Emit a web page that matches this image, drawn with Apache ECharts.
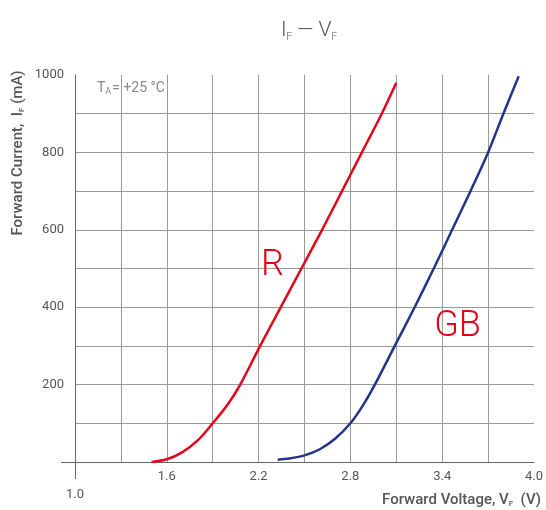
<!DOCTYPE html>
<html>
<head>
<meta charset="utf-8">
<script src="https://cdn.jsdelivr.net/npm/echarts@6/dist/echarts.min.js"></script>
<style>
  html, body { margin: 0; padding: 0; background: #fff; }
  #chart { width: 546px; height: 510px; }
</style>
</head>
<body>
<div id="chart"></div>
<script>
// R 曲线
var rVolt = [1.5, 1.6, 1.7, 1.8, 1.9, 2.0, 2.08, 2.21, 2.345, 2.48, 2.615, 2.745, 2.875, 3.005, 3.1];
var rCurr = [0, 7, 25, 55, 100, 150, 200, 300, 400, 500, 600, 700, 800, 900, 980];
// GB 曲线
var gbVolt = [2.325, 2.4, 2.5, 2.6, 2.7, 2.8, 2.88, 2.96, 3.09, 3.22, 3.345, 3.465, 3.585, 3.7, 3.8, 3.9];
var gbCurr = [6, 9, 17, 33, 60, 100, 145, 200, 300, 400, 500, 600, 700, 800, 900, 997];

var xLabels = ["1.0", "1.6", "2.2", "2.8", "3.4", "4.0"];
var yLabels = [200, 400, 600, 800, 1000];

var font = "Roboto";
var textGrey = "#555";
var axisGrey = "#666";

function pairs(xs, ys) {
  return xs.map(function (x, i) { return [x, ys[i]]; });
}

var myChart = echarts.init(document.getElementById("chart"));

var option = {
  animation: false,
  textStyle: { fontFamily: font },
  title: {
    text: "I{s|F} — V{s|F}",
    left: 304,
    textAlign: "center",
    top: 15,
    textStyle: {
      fontSize: 21,
      fontWeight: 300,
      color: textGrey,
      fontFamily: font,
      rich: {
        s: { fontSize: 10, fontWeight: 300, color: textGrey, fontFamily: font, padding: [12, 0, 0, 0] }
      }
    }
  },
  grid: { left: 75, right: 5, top: 75, bottom: 48 },
  xAxis: [
    {
      type: "value",
      min: 1.0,
      max: 4.0,
      interval: 0.3,
      axisLine: { lineStyle: { color: axisGrey, width: 1 } },
      axisTick: { show: false },
      splitLine: { show: true, showMaxLine: false, lineStyle: { color: "#9a9a9a", width: 1 } },
      axisLabel: {
        margin: 8,
        color: textGrey,
        fontSize: 13,
        fontFamily: font,
        formatter: function (v) {
          var s = v.toFixed(1);
          if (xLabels.indexOf(s) < 0) return "";
          return s === "1.0" ? "{low|1.0}" : s;
        },
        rich: { low: { fontSize: 13, color: textGrey, fontFamily: font, padding: [18, 0, 0, 0] } }
      }
    },
    {
      // 只画 1.0 处向下的短刻度
      type: "value",
      position: "bottom",
      min: 1.0,
      max: 4.0,
      axisLine: { show: false },
      axisTick: { show: true, customValues: [1.0], length: 17, lineStyle: { color: axisGrey } },
      axisLabel: { show: false },
      splitLine: { show: false }
    }
  ],
  yAxis: [
    {
      type: "value",
      min: 0,
      max: 1000,
      interval: 100,
      axisLine: { show: true, lineStyle: { color: axisGrey, width: 1 } },
      axisTick: { show: false },
      splitLine: { show: true, showMaxLine: false, lineStyle: { color: "#9a9a9a", width: 1 } },
      axisLabel: {
        margin: 11,
        color: textGrey,
        fontSize: 13,
        fontFamily: font,
        formatter: function (v) {
          return yLabels.indexOf(Math.round(v)) >= 0 ? String(Math.round(v)) : "";
        }
      }
    },
    {
      // 只画 0 处向左的短刻度
      type: "value",
      position: "left",
      min: 0,
      max: 1000,
      axisLine: { show: false },
      axisTick: { show: true, customValues: [0], length: 14, lineStyle: { color: axisGrey } },
      axisLabel: { show: false },
      splitLine: { show: false }
    }
  ],
  graphic: [
    {
      type: "text",
      rotation: Math.PI / 2,
      x: 18,
      y: 153,
      style: {
        text: "Forward Current,  I{s|F} (mA)",
        fontSize: 15,
        fontWeight: 500,
        fontFamily: font,
        fill: textGrey,
        align: "center",
        verticalAlign: "middle",
        rich: { s: { fontSize: 8, fontWeight: 500, fill: textGrey, fontFamily: font, padding: [8, 0, 0, 0] } }
      }
    },
    {
      type: "text",
      x: 541,
      y: 500,
      style: {
        text: "Forward Voltage, V{s|F}  (V)",
        fontSize: 15,
        fontWeight: 500,
        fontFamily: font,
        fill: textGrey,
        align: "right",
        verticalAlign: "middle",
        rich: { s: { fontSize: 8, fontWeight: 500, fill: textGrey, fontFamily: font, padding: [8, 0, 0, 0] } }
      }
    },
    {
      type: "text",
      x: 97,
      y: 88,
      style: {
        text: "T{s|A}= +25 °C",
        fontSize: 14,
        fontFamily: font,
        fill: "#888",
        align: "left",
        verticalAlign: "middle",
        rich: { s: { fontSize: 9, fill: "#888", fontFamily: font, padding: [8, 1, 0, 0] } }
      }
    }
  ],
  series: [
    {
      name: "R",
      type: "line",
      smooth: 0.3,
      showSymbol: false,
      data: pairs(rVolt, rCurr),
      lineStyle: { color: "#e30618", width: 2.5 },
      itemStyle: { color: "#e30618" },
      markPoint: {
        symbolSize: 0,
        data: [{ coord: [2.29, 506] }],
        label: { show: true, formatter: "R", fontSize: 36, fontWeight: 300, color: "#e30618", fontFamily: font }
      }
    },
    {
      name: "GB",
      type: "line",
      smooth: 0.3,
      showSymbol: false,
      data: pairs(gbVolt, gbCurr),
      lineStyle: { color: "#24348a", width: 2.5 },
      itemStyle: { color: "#24348a" },
      markPoint: {
        symbolSize: 0,
        data: [{ coord: [3.5, 348] }],
        label: { show: true, formatter: "GB", fontSize: 36, fontWeight: 300, color: "#e30618", fontFamily: font }
      }
    }
  ]
};

myChart.setOption(option);
</script>
</body>
</html>
